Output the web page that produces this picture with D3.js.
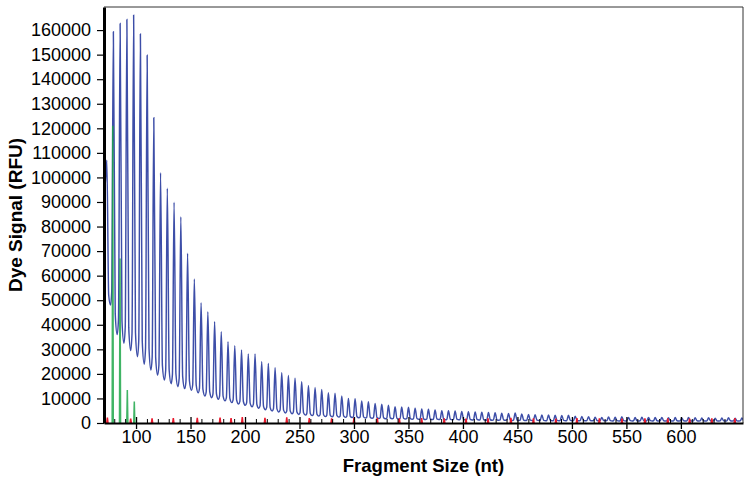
<!DOCTYPE html>
<html>
<head>
<meta charset="utf-8">
<script src="https://cdn.jsdelivr.net/npm/d3@7"></script>
<style>
  body { margin: 0; background: #fff; }
  #canvas { width: 751px; height: 486px; }
  text { font-family: "Liberation Sans", Arial, sans-serif; }
</style>
</head>
<body>
<div id="canvas" class="canvas"></div>
<script>
// values
var xTicks = [100, 150, 200, 250, 300, 350, 400, 450, 500, 550, 600];
var yTicks = [0, 10000, 20000, 30000, 40000, 50000, 60000, 70000, 80000,
    90000, 100000, 110000, 120000, 130000, 140000, 150000, 160000];

// blue ladder: peak position (nt), peak height (RFU), trough after each peak (RFU)
var traceStartRFU = 97000;
var peakSize = [73.2,
    79.2, 85.4, 91.6, 97.8, 104.0, 110.2, 116.3, 122.5, 128.7, 134.9,
    141.1, 147.3, 153.5, 159.7, 165.9, 172.1, 178.2, 184.4, 190.6, 196.8,
    203.0, 209.2, 215.3, 221.4, 227.6, 233.7, 239.8, 245.9, 252.0, 258.2,
    264.3, 270.4, 276.5, 282.6, 288.8, 294.9, 301.0, 307.1, 313.2, 319.4,
    325.5, 331.6, 337.7, 343.8, 350.0, 356.1, 362.2, 368.3, 374.4, 380.6,
    386.7, 392.8, 398.9, 405.0, 411.2, 417.3, 423.4, 429.5, 435.6, 441.8,
    447.9, 454.0, 460.1, 466.2, 472.4, 478.5, 484.6, 490.7, 496.8, 503.0,
    509.1, 515.2, 521.3, 527.4, 533.6, 539.7, 545.8, 551.9, 558.0, 564.2,
    570.3, 576.4, 582.5, 588.6, 594.8, 600.9, 607.0, 613.1, 619.2, 625.4,
    631.5, 637.6, 643.7, 649.8, 656.0];
var peakRFU = [107000,
    159300, 162700, 164300, 166100, 158400, 149800, 124300, 101900, 95600, 89900,
    84000, 69100, 58600, 49000, 45300, 41200, 37200, 33100, 31500, 29700,
    28100, 28100, 25000, 24200, 22500, 20500, 19400, 18200, 16800, 15300,
    14500, 13700, 12300, 12100, 11000, 10000, 9900, 9000, 8700, 8000,
    7600, 7200, 6600, 6500, 6400, 6000, 5700, 5600, 5300, 5000,
    5000, 4900, 4700, 4600, 4500, 4400, 4300, 4200, 4000, 3900,
    4100, 3700, 3500, 3400, 3300, 3300, 3200, 3100, 3200, 2800,
    2700, 2600, 2400, 2300, 2500, 2400, 2600, 2300, 2200, 2400,
    2300, 2200, 2300, 2100, 2200, 2000, 2200, 2100, 2000, 2100,
    1900, 2000, 2100, 1900, 2000];
var troughRFU = [48000,
    36000, 32500, 29500, 27000, 24000, 21600, 19500, 17500, 16000, 14800,
    14000, 13300, 12300, 11000, 10300, 9700, 9000, 8300, 7700, 7200,
    6600, 6000, 5400, 4900, 4500, 4100, 3800, 3500, 3200, 3000,
    2800, 2600, 2500, 2400, 2300, 2200, 2100, 2000, 1900, 1800,
    1700, 1700, 1600, 1600, 1500, 1500, 1400, 1400, 1400, 1300,
    1300, 1300, 1200, 1200, 1200, 1100, 1100, 1100, 1100, 1000,
    1000, 1000, 1000, 1000, 900, 900, 900, 900, 900, 900,
    900, 900, 900, 900, 850, 850, 850, 850, 850, 850,
    850, 850, 800, 800, 800, 800, 800, 800, 800, 800,
    800, 800, 800, 800, 800];

// green peaks at the start
var greenSize = [78.6, 85.3, 92.0, 98.4];
var greenRFU = [121000, 67000, 13400, 8700];

// red size standard along the baseline
var redSize = [73.7, 95.1, 114.7, 134.2, 156.2, 177.1, 187.2, 197.5, 218.3, 238.3,
    259.0, 279.5, 300.0, 321.4, 341.6, 362.1, 382.8, 402.8, 423.0, 444.0,
    464.7, 485.3, 504.6, 525.2, 545.9, 567.0, 588.0, 608.0, 628.4, 649.5];
var redRFU = [2200, 1800, 1900, 2000, 2100, 2200, 2000, 2400, 2100, 2300,
    2000, 1900, 2100, 2000, 1900, 2000, 1900, 1800, 1900, 2100,
    1900, 1800, 2000, 1900, 1800, 1900, 1900, 1800, 1900, 2000];

var m = {t:7, r:8, b:63, l:104},
    w = 751 - m.l - m.r,
    h = 486 - m.t - m.b;

var svg = d3.select('.canvas')
    .append('svg')
    .attr('width', w + m.l + m.r)
    .attr('height', h + m.t + m.b);

var plot = svg.append('g')
    .attr('transform', 'translate(' + m.l + ',' + m.t + ')');

var x = d3.scaleLinear().domain([70.6, 657]).range([0, w]);
var y = d3.scaleLinear().domain([0, 169400]).range([h, 0]);

plot.append('clipPath').attr('id', 'clip')
    .append('rect').attr('width', w).attr('height', h);

var marks = plot.append('g').attr('clip-path', 'url(#clip)');

// build the blue trace from peaks and troughs
var pts = [[x.domain()[0], traceStartRFU]];
var prev = traceStartRFU;
peakSize.forEach(function(p, i){
    var top = peakRFU[i], tr = troughRFU[i];
    var next = i < peakSize.length - 1 ? peakSize[i+1] : p + 6.1;
    pts.push([p - 1.5, prev + (top - prev) * 0.05]);
    pts.push([p, top]);
    pts.push([p + 1.7, tr + (top - tr) * 0.07]);
    pts.push([(p + next) / 2 + 0.4, tr]);
    prev = tr;
});

var line = d3.line()
    .x(function(d){return x(d[0])}).y(function(d){return y(d[1])})
    .curve(d3.curveMonotoneX);

marks.append('path')
    .datum(pts)
    .attr('d', line)
    .style('fill', 'none')
    .style('stroke', '#3d4ea8')
    .style('stroke-width', '1.45px');

var spike = d3.line()
    .x(function(d){return x(d[0])}).y(function(d){return y(d[1])});

marks.selectAll('.green')
    .data(greenSize)
    .enter()
    .append('path').attr('class', 'green')
    .attr('d', function(d, i){
        return spike([[d - 0.5, 0], [d, greenRFU[i]], [d + 0.5, 0]]);
    })
    .style('fill', '#1fa84b')
    .style('stroke', '#1fa84b')
    .style('stroke-width', '1.5px')
    .style('opacity', 0.85);

marks.selectAll('.red')
    .data(redSize)
    .enter()
    .append('path').attr('class', 'red')
    .attr('d', function(d, i){
        return spike([[d - 0.6, 0], [d, redRFU[i]], [d + 0.6, 0]]);
    })
    .style('fill', '#e8192c')
    .style('stroke', '#e8192c')
    .style('stroke-width', '1.5px');

// frame (top and right)
plot.append('path')
    .attr('d', 'M0,0H' + w + 'V' + h)
    .style('fill', 'none')
    .style('stroke', '#333')
    .style('stroke-width', '1px');

// x axis: minor ticks up, major ticks across
var minor = d3.range(80, 657, 10).filter(function(v){return v % 50 !== 0});
plot.append('g')
    .attr('transform', 'translate(0,' + h + ')')
    .call(d3.axisTop(x).tickValues(minor).tickSize(4).tickFormat(''))
    .call(function(g){ g.select('.domain').remove(); })
    .selectAll('line').style('stroke', '#000');

var xAxis = plot.append('g')
    .attr('transform', 'translate(0,' + h + ')')
    .call(d3.axisBottom(x).tickValues(xTicks).tickSize(6).tickSizeOuter(0).tickPadding(1));
xAxis.selectAll('.tick line').attr('y1', -6).style('stroke', '#000').style('stroke-width', '1.3px');
xAxis.select('.domain').style('stroke', '#000').style('stroke-width', '2px');
xAxis.selectAll('text').style('font-size', '18px').style('fill', '#000');

var yAxis = plot.append('g')
    .call(d3.axisLeft(y).tickValues(yTicks).tickSize(7).tickSizeOuter(0)
        .tickPadding(6).tickFormat(d3.format('d')));
yAxis.select('.domain').style('stroke', '#000').style('stroke-width', '3px');
yAxis.selectAll('.tick line').style('stroke', '#000').style('stroke-width', '1.2px');
yAxis.selectAll('text').style('font-size', '18px').style('fill', '#000');

// titles
svg.append('text')
    .attr('x', m.l + w / 2).attr('y', 472)
    .attr('text-anchor', 'middle')
    .style('font-size', '18.5px').style('font-weight', 'bold')
    .text('Fragment Size (nt)');

svg.append('text')
    .attr('transform', 'translate(22,' + (m.t + h / 2) + ') rotate(-90)')
    .attr('text-anchor', 'middle')
    .style('font-size', '19px').style('font-weight', 'bold')
    .text('Dye Signal (RFU)');
</script>
</body>
</html>
